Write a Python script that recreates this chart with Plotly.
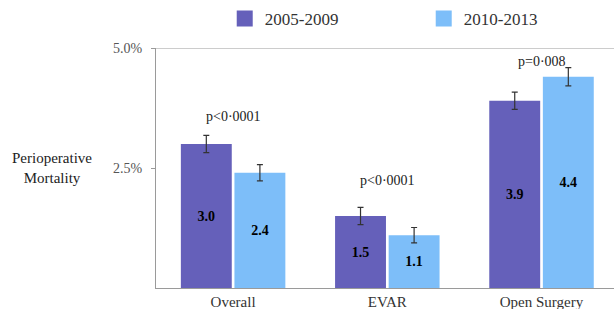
import plotly.graph_objects as go

categories = ["Overall", "EVAR", "Open Surgery"]
series_names = ["2005-2009", "2010-2013"]
values_0509 = [3.0, 1.5, 3.9]
values_1013 = [2.4, 1.1, 4.4]
err_0509 = [0.18, 0.18, 0.18]
err_1013 = [0.17, 0.16, 0.19]
p_labels = ["p<0·0001", "p<0·0001", "p=0·008"]
p_label_y = [3.58, 2.23, 4.71]
y_ticks = [2.5, 5.0]
y_tick_labels = ["2.5%", "5.0%"]

colors = ["#6560BA", "#7DBEF9"]
FONT = "Times New Roman, Liberation Serif, serif"

fig = go.Figure()
for name, vals, errs, col in zip(series_names, [values_0509, values_1013],
                                 [err_0509, err_1013], colors):
    fig.add_trace(go.Bar(
        x=categories, y=vals, name=name, marker=dict(color=col, line=dict(width=0)),
        error_y=dict(type="data", array=errs, visible=True, color="#333333",
                     thickness=1.2, width=3),
        text=[f"<b>{v:.1f}</b>" for v in vals], textposition="inside",
        insidetextanchor="middle", textangle=0,
        textfont=dict(family=FONT, size=14, color="#000000"),
        showlegend=False,
    ))
    fig.add_trace(go.Scatter(
        x=[None], y=[None], mode="markers", name=name,
        marker=dict(symbol="square", size=20, color=col), showlegend=True,
    ))

for cat, lab, yy in zip(categories, p_labels, p_label_y):
    fig.add_annotation(x=cat, y=yy, text=lab, showarrow=False,
                       font=dict(family=FONT, size=14, color="#222222"))

fig.add_annotation(xref="paper", yref="paper", x=-0.228, y=0.5,
                   text="Perioperative<br>Mortality", showarrow=False,
                   align="center", xanchor="center",
                   font=dict(family=FONT, size=15, color="#222222"))

fig.add_shape(type="line", xref="paper", yref="y", x0=0, x1=1, y0=5, y1=5,
              line=dict(color="#9a9a9a", width=1.2))

fig.update_layout(
    width=614, height=309,
    margin=dict(l=156, r=0, t=48, b=21, autoexpand=False),
    paper_bgcolor="white", plot_bgcolor="white",
    barmode="group", bargap=0.305, bargroupgap=0.05,
    font=dict(family=FONT, color="#333333"),
    legend=dict(orientation="h", xref="container", yref="container",
                x=0.366, y=1 - 19 / 309, xanchor="left", yanchor="middle",
                font=dict(family=FONT, size=17, color="#333333"),
                entrywidth=154, entrywidthmode="pixels", itemsizing="trace"),
    xaxis=dict(range=[-0.5, 2.47], showline=True, linecolor="#9a9a9a", linewidth=1.2,
               ticks="", tickfont=dict(family=FONT, size=15, color="#333333"),
               showgrid=False, fixedrange=True),
    yaxis=dict(range=[0, 5], tickvals=y_ticks, ticktext=y_tick_labels,
               showline=True, linecolor="#9a9a9a", linewidth=1.2,
               ticks="outside", ticklen=4, tickcolor="#9a9a9a",
               ticklabelstandoff=6,
               tickfont=dict(family=FONT, size=14, color="#555555"),
               showgrid=False, zeroline=False, fixedrange=True),
)

fig.write_html("out.html", config={"displayModeBar": False},
               post_script="document.body.style.margin='0';document.body.style.overflow='hidden';")
